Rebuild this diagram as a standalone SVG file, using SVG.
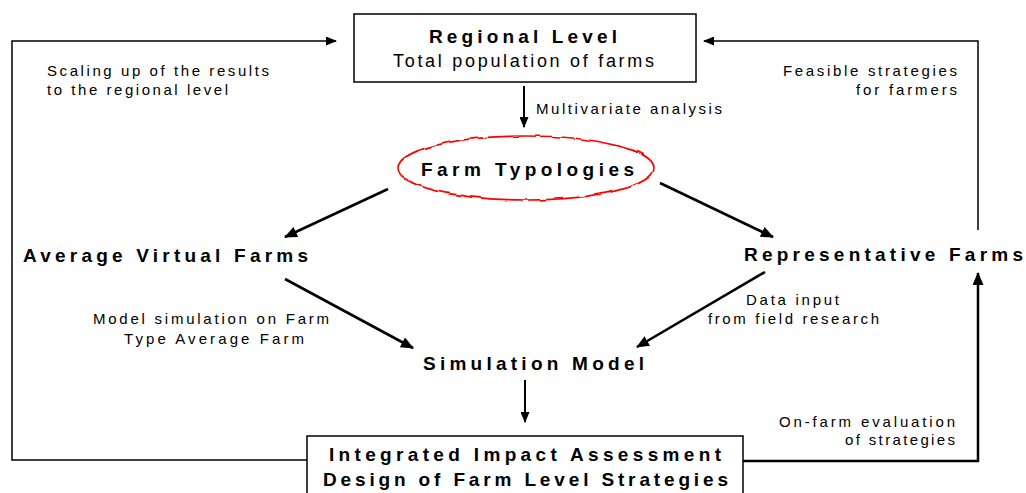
<svg xmlns="http://www.w3.org/2000/svg" width="1026" height="493" viewBox="0 0 1026 493">
<style>
  .b{font-family:"Liberation Sans",Arial,sans-serif;font-weight:bold;font-size:19px;fill:#000}
  .r{font-family:"Liberation Sans",Arial,sans-serif;font-size:15px;fill:#000}
  .rl{font-family:"Liberation Sans",Arial,sans-serif;font-size:18px;fill:#000}
  .box{fill:#fff;stroke:#000;stroke-width:1.5}
  .c{fill:none;stroke:#000;stroke-width:2}
  .d{fill:none;stroke:#000;stroke-width:2.6}
  .thin{fill:none;stroke:#000;stroke-width:1.5}
  .thick{fill:none;stroke:#000;stroke-width:2.5}
</style>
<defs>
  <marker id="ah" markerUnits="userSpaceOnUse" markerWidth="11" markerHeight="9" refX="10" refY="4.5" orient="auto">
    <path d="M0,0 L11,4.5 L0,9 z" fill="#000"/>
  </marker>
  <marker id="ahd" markerUnits="userSpaceOnUse" markerWidth="13" markerHeight="11" refX="12" refY="5.5" orient="auto">
    <path d="M0,0 L13,5.5 L0,11 z" fill="#000"/>
  </marker>
  <filter id="wobble" x="-5%" y="-20%" width="110%" height="140%">
    <feTurbulence type="fractalNoise" baseFrequency="0.06" numOctaves="2" seed="3" result="n"/>
    <feDisplacementMap in="SourceGraphic" in2="n" scale="3.5" xChannelSelector="R" yChannelSelector="G"/>
  </filter>
</defs>
<rect width="1026" height="493" fill="#fff"/>
<g id="connectors">
  <polyline class="thin" points="307,460 12,460 12,41 336,41" marker-end="url(#ah)"/>
  <polyline class="thin" points="978,230 978,41 704,41" marker-end="url(#ah)"/>
  <polyline class="thick" points="743,461 978,461 978,273" marker-end="url(#ahd)"/>
  <line class="c" x1="524" y1="86" x2="524" y2="127" marker-end="url(#ah)"/>
  <line class="d" x1="388" y1="189" x2="285" y2="237" marker-end="url(#ahd)"/>
  <line class="d" x1="660" y1="183" x2="773" y2="237" marker-end="url(#ahd)"/>
  <line class="d" x1="285" y1="279" x2="413" y2="348" marker-end="url(#ahd)"/>
  <line class="d" x1="765" y1="272" x2="637" y2="347" marker-end="url(#ahd)"/>
  <line class="c" x1="525" y1="380" x2="525" y2="422" marker-end="url(#ah)"/>
  <text class="r" x="536" y="114" textLength="186" lengthAdjust="spacing">Multivariate analysis</text>
  <text class="r" x="47" y="76" textLength="222" lengthAdjust="spacing">Scaling up of the results</text>
  <text class="r" x="47" y="95" textLength="181" lengthAdjust="spacing">to the regional level</text>
  <text class="r" x="783" y="76" textLength="174" lengthAdjust="spacing">Feasible strategies</text>
  <text class="r" x="856" y="95" textLength="101" lengthAdjust="spacing">for farmers</text>
  <text class="r" x="93" y="324" textLength="236" lengthAdjust="spacing">Model simulation on Farm</text>
  <text class="r" x="124" y="344" textLength="180" lengthAdjust="spacing">Type Average Farm</text>
  <text class="r" x="746" y="305" textLength="93" lengthAdjust="spacing">Data input</text>
  <text class="r" x="708" y="324" textLength="171" lengthAdjust="spacing">from field research</text>
  <text class="r" x="779" y="427" textLength="176" lengthAdjust="spacing">On-farm evaluation</text>
  <text class="r" x="845" y="445" textLength="110" lengthAdjust="spacing">of strategies</text>
</g>
<g id="regional-level">
  <rect class="box" x="354" y="14" width="342" height="68"/>
  <text class="b" x="429" y="43" textLength="188" lengthAdjust="spacing">Regional Level</text>
  <text class="rl" x="393" y="67" textLength="261" lengthAdjust="spacing">Total population of farms</text>
</g>
<g id="farm-typologies">
  <ellipse cx="526" cy="168" rx="128" ry="32" fill="none" stroke="#f00" stroke-width="1.6" filter="url(#wobble)"/>
  <text class="b" x="421" y="176" textLength="213" lengthAdjust="spacing">Farm Typologies</text>
</g>
<g id="average-virtual-farms">
  <text class="b" x="23" y="262" textLength="285" lengthAdjust="spacing">Average Virtual Farms</text>
</g>
<g id="representative-farms">
  <text class="b" x="744" y="261" textLength="279" lengthAdjust="spacing">Representative Farms</text>
</g>
<g id="simulation-model">
  <text class="b" x="423" y="370" textLength="221" lengthAdjust="spacing">Simulation Model</text>
</g>
<g id="impact-assessment">
  <rect class="box" x="307" y="436" width="436" height="70"/>
  <text class="b" x="329" y="461" textLength="392" lengthAdjust="spacing">Integrated Impact Assessment</text>
  <text class="b" x="323" y="486" textLength="405" lengthAdjust="spacing">Design of Farm Level Strategies</text>
</g>
</svg>
